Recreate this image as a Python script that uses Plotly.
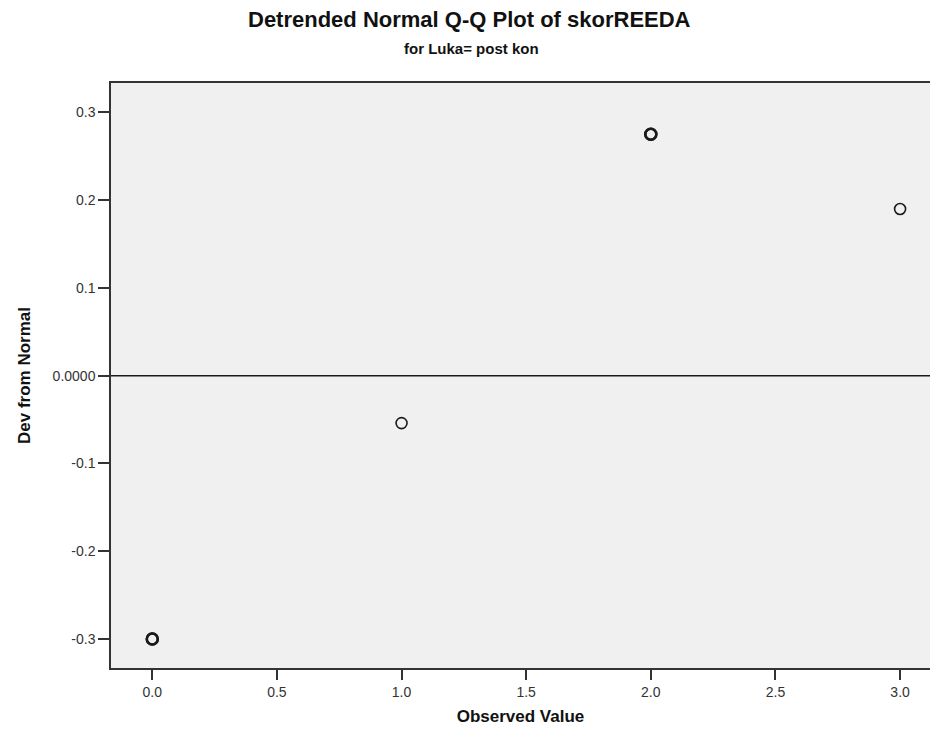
import plotly.graph_objects as go
from collections import Counter

# Data
observed = [0.0, 0.0, 1.0, 2.0, 2.0, 3.0]
dev_from_normal = [-0.300, -0.300, -0.054, 0.275, 0.275, 0.190]

x_tick_vals = [0.0, 0.5, 1.0, 1.5, 2.0, 2.5, 3.0]
x_tick_text = ["0.0", "0.5", "1.0", "1.5", "2.0", "2.5", "3.0"]
y_tick_vals = [0.3, 0.2, 0.1, 0.0, -0.1, -0.2, -0.3]
y_tick_text = ["0.3", "0.2", "0.1", "0.0000", "-0.1", "-0.2", "-0.3"]

W, H = 930, 740
L, T, B, R = 111, 83, 72, 0

# tied points overplot, so they look bolder
counts = Counter(zip(observed, dev_from_normal))
line_w = [1.6 + 0.9 * (counts[(x, y)] - 1) for x, y in zip(observed, dev_from_normal)]

fig = go.Figure()

fig.add_trace(go.Scatter(
    x=observed, y=dev_from_normal, mode="markers",
    marker=dict(symbol="circle-open", size=11, color="#1a1a1a",
                line=dict(width=line_w, color="#1a1a1a")),
    showlegend=False, hoverinfo="x+y",
))

fig.add_hline(y=0, line=dict(color="#1a1a1a", width=1.5))

font_family = "Liberation Sans, Arial, sans-serif"

fig.update_layout(
    width=W, height=H,
    margin=dict(l=L, r=R, t=T, b=B),
    paper_bgcolor="white",
    plot_bgcolor="#F0F0F0",
    font=dict(family=font_family, color="#222222", size=14),
    xaxis=dict(
        range=[-0.1656, 3.12], tickvals=x_tick_vals, ticktext=x_tick_text,
        showgrid=False, zeroline=False,
        showline=True, linecolor="#333333", linewidth=1.5, mirror=True,
        ticks="outside", ticklen=10, tickwidth=1.5, tickcolor="#333333",
        tickfont=dict(size=14, color="#333333"),
        title=dict(text="<b>Observed Value</b>", font=dict(size=17, color="#111111"), standoff=12),
    ),
    yaxis=dict(
        range=[-0.333, 0.3335], tickvals=y_tick_vals, ticktext=y_tick_text,
        showgrid=False, zeroline=False,
        showline=True, linecolor="#333333", linewidth=1.5, mirror=False,
        ticks="outside", ticklen=11, tickwidth=1.5, tickcolor="#333333",
        tickfont=dict(size=14, color="#333333"),
        title=dict(text="<b>Dev from Normal</b>", font=dict(size=17, color="#111111"), standoff=18),
    ),
    annotations=[
        dict(text="<b>Detrended Normal Q-Q Plot of skorREEDA</b>", xref="paper", yref="paper",
             x=(469 - L) / (W - L - R), y=1 + (T - 20) / (H - T - B), xanchor="center", yanchor="middle",
             showarrow=False, font=dict(size=22, color="#111111")),
        dict(text="<b>for Luka= post kon</b>", xref="paper", yref="paper",
             x=(471 - L) / (W - L - R), y=1 + (T - 49) / (H - T - B), xanchor="center", yanchor="middle",
             showarrow=False, font=dict(size=15, color="#111111")),
    ],
)

fig.write_html("out.html", config={"displayModeBar": False})

# remove the default page margin so the figure sits at the window's top-left corner
with open("out.html", "r", encoding="utf-8") as f:
    html = f.read()
html = html.replace("<body>", '<body style="margin:0;padding:0;overflow:hidden">', 1)
with open("out.html", "w", encoding="utf-8") as f:
    f.write(html)
